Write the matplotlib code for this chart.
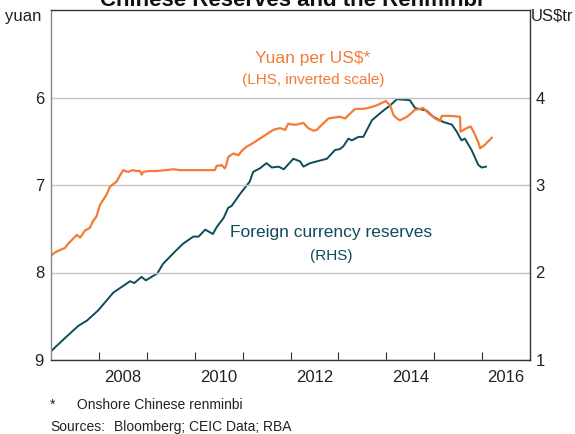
import matplotlib
matplotlib.use("Agg")
import matplotlib.pyplot as plt

plt.rcParams['font.family'] = ['Liberation Sans', 'DejaVu Sans']

# yuan per US$ (decimal years)
yuan_t = [2007.00, 2007.06, 2007.12, 2007.20, 2007.29, 2007.36, 2007.45, 2007.54, 2007.61, 2007.71,
          2007.81, 2007.88, 2007.95, 2008.02, 2008.10, 2008.16, 2008.23, 2008.30, 2008.37, 2008.44,
          2008.51, 2008.55, 2008.61, 2008.70, 2008.79, 2008.86, 2008.89, 2008.93, 2009.05, 2009.21,
          2009.40, 2009.55, 2009.70, 2009.90, 2010.10, 2010.30, 2010.42, 2010.46, 2010.52, 2010.56,
          2010.63, 2010.66, 2010.70, 2010.75, 2010.81, 2010.91, 2011.00, 2011.09, 2011.22, 2011.36,
          2011.50, 2011.64, 2011.78, 2011.89, 2011.95, 2012.05, 2012.13, 2012.27, 2012.37, 2012.48,
          2012.55, 2012.62, 2012.79, 2012.90, 2013.03, 2013.14, 2013.25, 2013.35, 2013.52, 2013.62,
          2013.80, 2013.99, 2014.08, 2014.15, 2014.22, 2014.29, 2014.43, 2014.52, 2014.60, 2014.70,
          2014.77, 2014.88, 2015.02, 2015.12, 2015.16, 2015.33, 2015.54, 2015.55, 2015.68, 2015.76,
          2015.82, 2015.92, 2015.96, 2016.06, 2016.11, 2016.15, 2016.20]
yuan = [7.81, 7.78, 7.76, 7.74, 7.72, 7.67, 7.62, 7.57, 7.60, 7.52,
        7.49, 7.41, 7.36, 7.23, 7.16, 7.11, 7.02, 6.99, 6.96, 6.89,
        6.83, 6.84, 6.85, 6.83, 6.84, 6.84, 6.88, 6.85, 6.84, 6.84,
        6.83, 6.82, 6.83, 6.83, 6.83, 6.83, 6.83, 6.78, 6.78, 6.77,
        6.81, 6.77, 6.68, 6.66, 6.64, 6.66, 6.60, 6.56, 6.52, 6.47,
        6.42, 6.37, 6.35, 6.37, 6.30, 6.31, 6.31, 6.29, 6.35, 6.38,
        6.37, 6.33, 6.24, 6.23, 6.22, 6.24, 6.18, 6.13, 6.13, 6.12,
        6.09, 6.04, 6.09, 6.20, 6.24, 6.26, 6.22, 6.18, 6.14, 6.13,
        6.12, 6.18, 6.24, 6.27, 6.21, 6.21, 6.22, 6.39, 6.35, 6.33,
        6.39, 6.51, 6.58, 6.54, 6.51, 6.49, 6.46]

# foreign currency reserves, US$ trillion
res_t = [2007.00, 2007.29, 2007.57, 2007.75, 2007.99, 2008.30, 2008.65, 2008.74, 2008.89, 2008.98,
         2009.22, 2009.34, 2009.59, 2009.76, 2009.97, 2010.08, 2010.22, 2010.38, 2010.46, 2010.60,
         2010.70, 2010.77, 2010.95, 2011.15, 2011.22, 2011.36, 2011.50, 2011.61, 2011.75, 2011.86,
         2012.06, 2012.20, 2012.27, 2012.41, 2012.62, 2012.76, 2012.93, 2013.03, 2013.10, 2013.21,
         2013.28, 2013.42, 2013.52, 2013.70, 2013.87, 2014.08, 2014.22, 2014.49, 2014.60, 2014.84,
         2014.98, 2015.19, 2015.37, 2015.47, 2015.57, 2015.64, 2015.78, 2015.92, 2015.99, 2016.08]
reserves = [1.10, 1.25, 1.39, 1.45, 1.57, 1.77, 1.90, 1.88, 1.95, 1.91,
            1.99, 2.10, 2.24, 2.33, 2.41, 2.41, 2.49, 2.44, 2.52, 2.62,
            2.74, 2.76, 2.90, 3.04, 3.15, 3.19, 3.25, 3.20, 3.21, 3.18,
            3.30, 3.27, 3.21, 3.25, 3.28, 3.30, 3.40, 3.41, 3.44, 3.53,
            3.51, 3.55, 3.55, 3.74, 3.82, 3.91, 3.98, 3.97, 3.88, 3.85,
            3.78, 3.72, 3.69, 3.61, 3.51, 3.53, 3.40, 3.23, 3.20, 3.21]

year_ticks = list(range(2008, 2017))
year_labels = ['2008', '2010', '2012', '2014', '2016']

orange = '#F47B36'
teal = '#0F4B5B'
txt = '#222222'

fig = plt.figure(figsize=(5.75, 4.34), dpi=100)
ax = fig.add_axes([51 / 575, 74 / 434, 479 / 575, 350 / 434])
ax2 = ax.twinx()

ax2.plot(res_t, reserves, color=teal, lw=1.4)
ax.plot(yuan_t, yuan, color=orange, lw=1.6)

ax.set_zorder(ax2.get_zorder() + 1)
ax.patch.set_visible(False)

ax.set_xlim(2007, 2017)
ax.set_ylim(9, 5)
ax2.set_ylim(1, 5)

ax.set_yticks([6, 7, 8, 9])
ax2.set_yticks([1, 2, 3, 4])
ax.yaxis.grid(True, color='#c4c4c4', lw=1)

ax.set_xticks(year_ticks)
ax.set_xticklabels([])
ax.set_xticks([int(y) + 0.5 for y in year_labels], minor=True)
ax.set_xticklabels(year_labels, minor=True)
ax.tick_params(axis='x', which='major', direction='in', length=6, color='#333333')
ax.tick_params(axis='x', which='minor', length=0, pad=7, labelsize=12, labelcolor=txt)
ax.tick_params(axis='y', direction='in', length=0, pad=5, labelsize=12, labelcolor=txt)
ax2.tick_params(axis='y', direction='in', length=3, pad=4, labelsize=12, labelcolor=txt, color='#888888')

for s in ax2.spines.values():
    s.set_visible(False)
for name, s in ax.spines.items():
    s.set_color('#333333')
    s.set_linewidth(1)
ax.spines['left'].set_color('#888888')

ax.text(2012.47, 5.55, 'Yuan per US$*', color=orange, fontsize=12.5, ha='center', va='center')
ax.text(2012.47, 5.80, '(LHS, inverted scale)', color=orange, fontsize=11, ha='center', va='center')
ax.text(2012.85, 7.54, 'Foreign currency reserves', color=teal, fontsize=12.5, ha='center', va='center')
ax.text(2012.85, 7.81, '(RHS)', color=teal, fontsize=11, ha='center', va='center')

fig.text(292 / 575, 1 - 6.5 / 434, 'Chinese Reserves and the Renminbi', fontsize=16,
         fontweight='bold', ha='center', va='baseline', color='#111111')
fig.text(5 / 575, 1 - 16 / 434, 'yuan', fontsize=12, va='center', color=txt)
fig.text(531 / 575, 1 - 16 / 434, 'US$tr', fontsize=12, va='center', color=txt)

fig.text(50 / 575, 1 - 405 / 434, '*', fontsize=10, va='center', color=txt)
fig.text(77 / 575, 1 - 405 / 434, 'Onshore Chinese renminbi', fontsize=10, va='center', color=txt)
fig.text(50 / 575, 1 - 427 / 434, 'Sources:', fontsize=10, va='center', color=txt)
fig.text(114 / 575, 1 - 427 / 434, 'Bloomberg; CEIC Data; RBA', fontsize=10, va='center', color=txt)

fig.savefig('out.png', dpi=100)
